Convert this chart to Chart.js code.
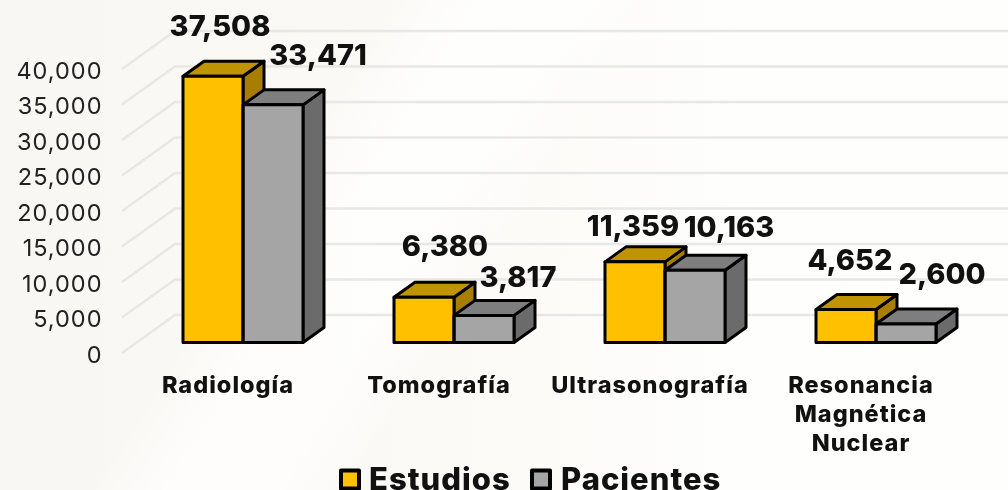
<!DOCTYPE html>
<html lang="es">
<head>
<meta charset="utf-8">
<title>Estudios y pacientes</title>
<script src="https://cdn.jsdelivr.net/npm/chart.js@4"></script>
<style>
html,body{margin:0;padding:0;width:1008px;height:490px;overflow:hidden;
 background:
  linear-gradient(122deg,rgba(255,255,255,0) 30%,rgba(255,255,255,.7) 36%,rgba(255,255,255,.7) 44%,rgba(255,255,255,0) 50%),
  linear-gradient(90deg,#f9f7f3 0,#fbfaf7 45%,#fefefc 75%,#fefefc 100%);}
canvas{display:block}
</style>
</head>
<body>
<canvas id="c" width="1008" height="490"></canvas>
<script>
const categories = [["Radiología"], ["Tomografía"], ["Ultrasonografía"], ["Resonancia", "Magnética", "Nuclear"]];
const seriesNames = ["Estudios", "Pacientes"];
const estudios = [37508, 6380, 11359, 4652];
const pacientes = [33471, 3817, 10163, 2600];
const yTickMax = 40000;
const yTickStep = 5000;

const FONT = "Inter, 'Open Sans', sans-serif";
const INK = "#000";
const front = ["#FFC000", "#A5A5A5"];
const topFace = ["#C09400", "#7E7E7E"];
const sideFace = ["#A87E00", "#6B6B6B"];
const DEPTH = [21, -15];
const WALL = [53, -38];
const labelNudge = [
  [[7, -49], [45, -49]],
  [[21, -50], [34, -37]],
  [[-2, -35], [34, -42]],
  [[4, -48], [36, -49]]
];
const legendLayout = [[341, 369], [532, 561]];
const fmt = v => Number(v).toLocaleString("en-US");

const poly = (ctx, pts, fill) => {
  ctx.beginPath();
  pts.forEach((p, i) => i ? ctx.lineTo(p[0], p[1]) : ctx.moveTo(p[0], p[1]));
  ctx.closePath();
  if (fill) {
    ctx.fillStyle = fill;
    ctx.fill();
  }
  ctx.lineWidth = 3;
  ctx.lineJoin = "round";
  ctx.strokeStyle = INK;
  ctx.stroke();
};

const scene3d = {
  id: "scene3d",
  beforeDraw(chart) { chart.ctx.letterSpacing = "1px"; },
  beforeDatasetsDraw(chart) {
    const ctx = chart.ctx, s = chart.scales.yTicks;
    ctx.save();
    ctx.strokeStyle = "#e7e7e5";
    ctx.lineWidth = 2.5;
    const x0 = 122;
    s.ticks.forEach(t => {
      const py = s.getPixelForValue(t.value);
      ctx.beginPath();
      ctx.moveTo(x0, py);
      ctx.lineTo(x0 + WALL[0], py + WALL[1]);
      ctx.lineTo(1008, py + WALL[1]);
      ctx.stroke();
    });
    chart.data.datasets.forEach((ds, d) => {
      chart.getDatasetMeta(d).data.forEach(b => {
        const l = b.x - b.width / 2, r = b.x + b.width / 2;
        const [dx, dy] = DEPTH;
        poly(ctx, [[r, b.y], [r + dx, b.y + dy], [r + dx, b.base + dy], [r, b.base]], sideFace[d]);
        poly(ctx, [[l, b.y], [l + dx, b.y + dy], [r + dx, b.y + dy], [r, b.y]], topFace[d]);
      });
    });
    ctx.restore();
  },
  afterDatasetsDraw(chart) {
    const ctx = chart.ctx;
    ctx.save();
    chart.data.datasets.forEach((ds, d) => {
      chart.getDatasetMeta(d).data.forEach(b => {
        const l = b.x - b.width / 2, r = b.x + b.width / 2;
        poly(ctx, [[l, b.y], [r, b.y], [r, b.base], [l, b.base]], null);
      });
    });
    ctx.letterSpacing = "0px";
    ctx.font = "800 29px " + FONT;
    ctx.fillStyle = "#111";
    ctx.textAlign = "center";
    ctx.textBaseline = "middle";
    chart.data.datasets.forEach((ds, d) => {
      chart.getDatasetMeta(d).data.forEach((b, i) => {
        const n = labelNudge[i][d];
        ctx.fillText(fmt(ds.data[i]), b.x + n[0], b.y + n[1]);
      });
    });
    ctx.restore();
  },
  afterDraw(chart) {
    const ctx = chart.ctx;
    ctx.save();
    ctx.letterSpacing = "1px";
    ctx.font = "800 31px " + FONT;
    ctx.textBaseline = "alphabetic";
    ctx.textAlign = "left";
    ctx.lineJoin = "round";
    seriesNames.forEach((n, i) => {
      ctx.fillStyle = front[i];
      ctx.strokeStyle = INK;
      ctx.lineWidth = 4;
      ctx.fillRect(legendLayout[i][0], 470.5, 18, 18);
      ctx.strokeRect(legendLayout[i][0], 470.5, 18, 18);
      ctx.fillStyle = "#111";
      ctx.fillText(n, legendLayout[i][1], 490);
    });
    ctx.restore();
  }
};

new Chart(document.getElementById("c"), {
  type: "bar",
  plugins: [scene3d],
  data: {
    labels: categories,
    datasets: [
      { label: seriesNames[0], data: estudios, yAxisID: "y", backgroundColor: front[0], borderWidth: 0 },
      { label: seriesNames[1], data: pacientes, yAxisID: "y", backgroundColor: front[1], borderWidth: 0 }
    ]
  },
  options: {
    responsive: false,
    animation: false,
    layout: { padding: { top: 69, right: 26.5, left: 0, bottom: 0 } },
    datasets: { bar: { barPercentage: 1, categoryPercentage: 120 / 211 } },
    plugins: {
      tooltip: { enabled: false },
      legend: { display: false }
    },
    scales: {
      x: {
        grid: { display: false },
        border: { display: false },
        afterFit(a) { a.height = 137; },
        ticks: {
          maxRotation: 0, autoSkip: false, padding: 10, labelOffset: -15,
          color: "#111",
          font: { family: FONT, size: 23.5, weight: "800", lineHeight: 29 / 23.5 }
        }
      },
      yTicks: {
        position: "left",
        min: 0, max: yTickMax,
        afterFit(a) { a.width = 137.5; },
        grid: { display: false },
        border: { display: false },
        ticks: {
          stepSize: yTickStep, padding: 27, labelOffset: 2.5, color: "#222",
          font: { family: FONT, size: 23.5, weight: "400" },
          callback: fmt
        }
      },
      y: {
        display: false,
        min: -1479, max: yTickMax - 1479
      }
    }
  }
});
</script>
</body>
</html>
